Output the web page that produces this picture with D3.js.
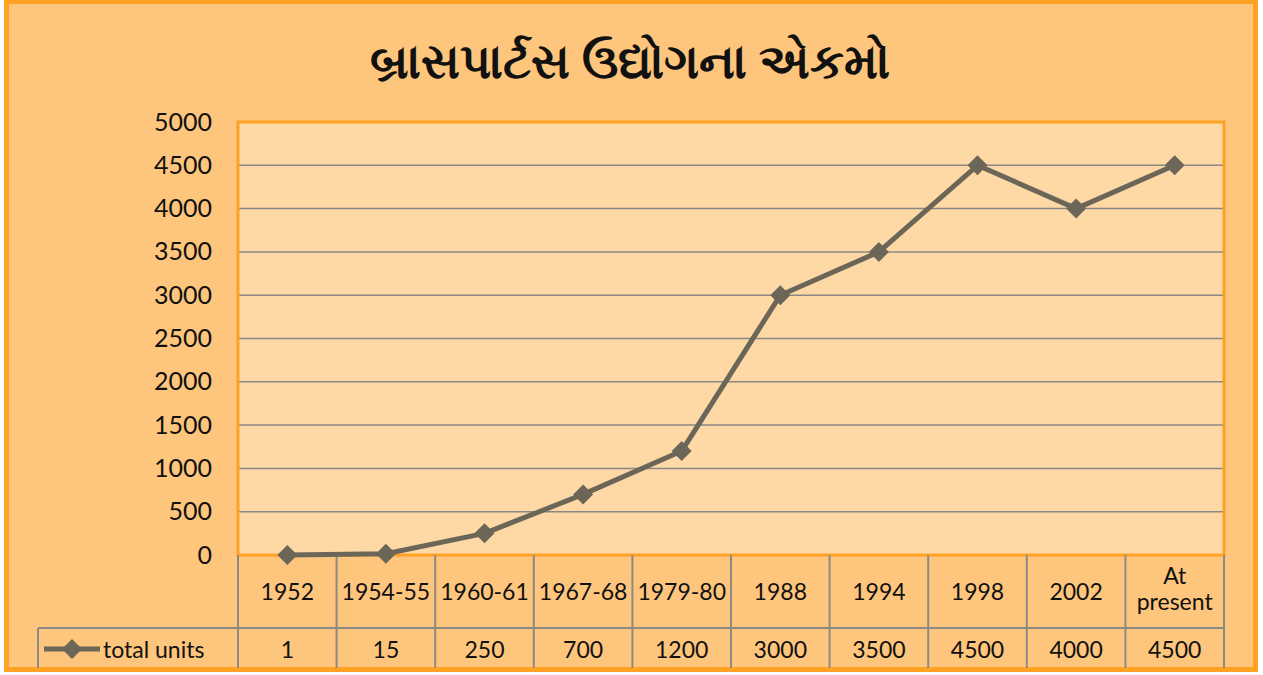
<!DOCTYPE html>
<html>
<head>
<meta charset="utf-8">
<script src="https://cdn.jsdelivr.net/npm/d3@7"></script>
<style>
  html, body { margin: 0; padding: 0; background: #fff; }
  svg { display: block; }
</style>
</head>
<body>
<div id="chart"></div>
<script>
// data
const categories = ['1952', '1954-55', '1960-61', '1967-68', '1979-80', '1988', '1994', '1998', '2002', 'At present'];
const totalUnits = [1, 15, 250, 700, 1200, 3000, 3500, 4500, 4000, 4500];
const yTicks = [0, 500, 1000, 1500, 2000, 2500, 3000, 3500, 4000, 4500, 5000];
const seriesName = 'total units';
const title = 'બ્રાસપાર્ટસ ઉદ્યોગના એકમો';

const W = 1263, H = 675;
const font = 'Lato, "Noto Sans", sans-serif';

const svg = d3.select('#chart').append('svg')
    .attr('width', W)
    .attr('height', H)
    .style('font-family', font);

// outer frame
svg.append('rect')
    .attr('x', 6.5).attr('y', 1.5)
    .attr('width', 1249).attr('height', 668)
    .attr('fill', '#fec57c')
    .attr('stroke', '#ffa224')
    .attr('stroke-width', 5);

svg.append('text')
    .attr('x', 630).attr('y', 78)
    .attr('text-anchor', 'middle')
    .attr('font-size', 48)
    .attr('font-weight', 700)
    .attr('fill', '#111')
    .text(title);

const plot = { left: 238, right: 1224, top: 122, bottom: 555 };

const x = d3.scaleBand()
    .domain(categories)
    .range([plot.left, plot.right]);

const y = d3.scaleLinear()
    .domain([0, 5000])
    .range([plot.bottom, plot.top]);

// plot area
svg.append('rect')
    .attr('x', plot.left).attr('y', plot.top)
    .attr('width', plot.right - plot.left)
    .attr('height', plot.bottom - plot.top)
    .attr('fill', '#fed9a6');

// gridlines
svg.append('g')
    .selectAll('line')
    .data(yTicks.filter(t => t > 0 && t < 5000))
    .join('line')
    .attr('x1', plot.left).attr('x2', plot.right)
    .attr('y1', d => y(d)).attr('y2', d => y(d))
    .attr('stroke', '#8a8884')
    .attr('stroke-width', 1.5);

svg.append('rect')
    .attr('x', plot.left).attr('y', plot.top)
    .attr('width', plot.right - plot.left)
    .attr('height', plot.bottom - plot.top)
    .attr('fill', 'none')
    .attr('stroke', '#ffa224')
    .attr('stroke-width', 3);

// y axis
const yAxis = svg.append('g')
    .attr('transform', `translate(${plot.left - 26},0)`)
    .call(d3.axisLeft(y).tickValues(yTicks).tickFormat(d3.format('d')).tickSize(0).tickPadding(0));
yAxis.select('.domain').remove();
yAxis.selectAll('text')
    .attr('font-size', 25)
    .attr('font-family', font)
    .attr('fill', '#111');

// data table
const tbl = { left: 38, catTop: 555, valTop: 628, bottom: 668 };
const gridCol = '#8c8a86';
const tg = svg.append('g');

tg.selectAll('line.v')
    .data(categories.map(c => x(c)).concat([plot.right]))
    .join('line')
    .attr('class', 'v')
    .attr('x1', d => d).attr('x2', d => d)
    .attr('y1', tbl.catTop).attr('y2', tbl.bottom)
    .attr('stroke', gridCol).attr('stroke-width', 2);

tg.append('line')
    .attr('x1', tbl.left).attr('x2', plot.right)
    .attr('y1', tbl.valTop).attr('y2', tbl.valTop)
    .attr('stroke', gridCol).attr('stroke-width', 2);
tg.append('line')
    .attr('x1', tbl.left).attr('x2', tbl.left)
    .attr('y1', tbl.valTop).attr('y2', tbl.bottom)
    .attr('stroke', gridCol).attr('stroke-width', 2);

tg.selectAll('text.cat')
    .data(categories)
    .join('text')
    .attr('class', 'cat')
    .attr('text-anchor', 'middle')
    .attr('font-size', 23)
    .attr('fill', '#111')
    .each(function(d) {
        const t = d3.select(this);
        const cx = x(d) + x.bandwidth() / 2;
        const words = d === 'At present' ? ['At', 'present'] : [d];
        const y0 = words.length === 1 ? 600 : 584;
        words.forEach((w, i) => {
            t.append('tspan').attr('x', cx).attr('y', y0 + i * 26).text(w);
        });
    });

tg.selectAll('text.val')
    .data(totalUnits)
    .join('text')
    .attr('class', 'val')
    .attr('text-anchor', 'middle')
    .attr('font-size', 23)
    .attr('fill', '#111')
    .attr('x', (d, i) => x(categories[i]) + x.bandwidth() / 2)
    .attr('y', 658)
    .text(d => d);

// legend key in table
const lineCol = '#6c6658';
const diamond = d3.symbol(d3.symbolSquare, 200)();
tg.append('line')
    .attr('x1', 44).attr('x2', 100)
    .attr('y1', 649).attr('y2', 649)
    .attr('stroke', lineCol).attr('stroke-width', 5);
tg.append('path')
    .attr('d', diamond)
    .attr('transform', 'translate(72,649) rotate(45)')
    .attr('fill', lineCol);
tg.append('text')
    .attr('x', 103).attr('y', 658)
    .attr('font-size', 23)
    .attr('fill', '#111')
    .text(seriesName);

// series
const line = d3.line()
    .x((d, i) => x(categories[i]) + x.bandwidth() / 2)
    .y(d => y(d));

svg.append('path')
    .datum(totalUnits)
    .attr('d', line)
    .attr('fill', 'none')
    .attr('stroke', lineCol)
    .attr('stroke-width', 5)
    .attr('stroke-linejoin', 'round');

svg.append('g')
    .selectAll('path')
    .data(totalUnits)
    .join('path')
    .attr('d', diamond)
    .attr('transform', (d, i) => `translate(${x(categories[i]) + x.bandwidth() / 2},${y(d)}) rotate(45)`)
    .attr('fill', lineCol);
</script>
</body>
</html>
